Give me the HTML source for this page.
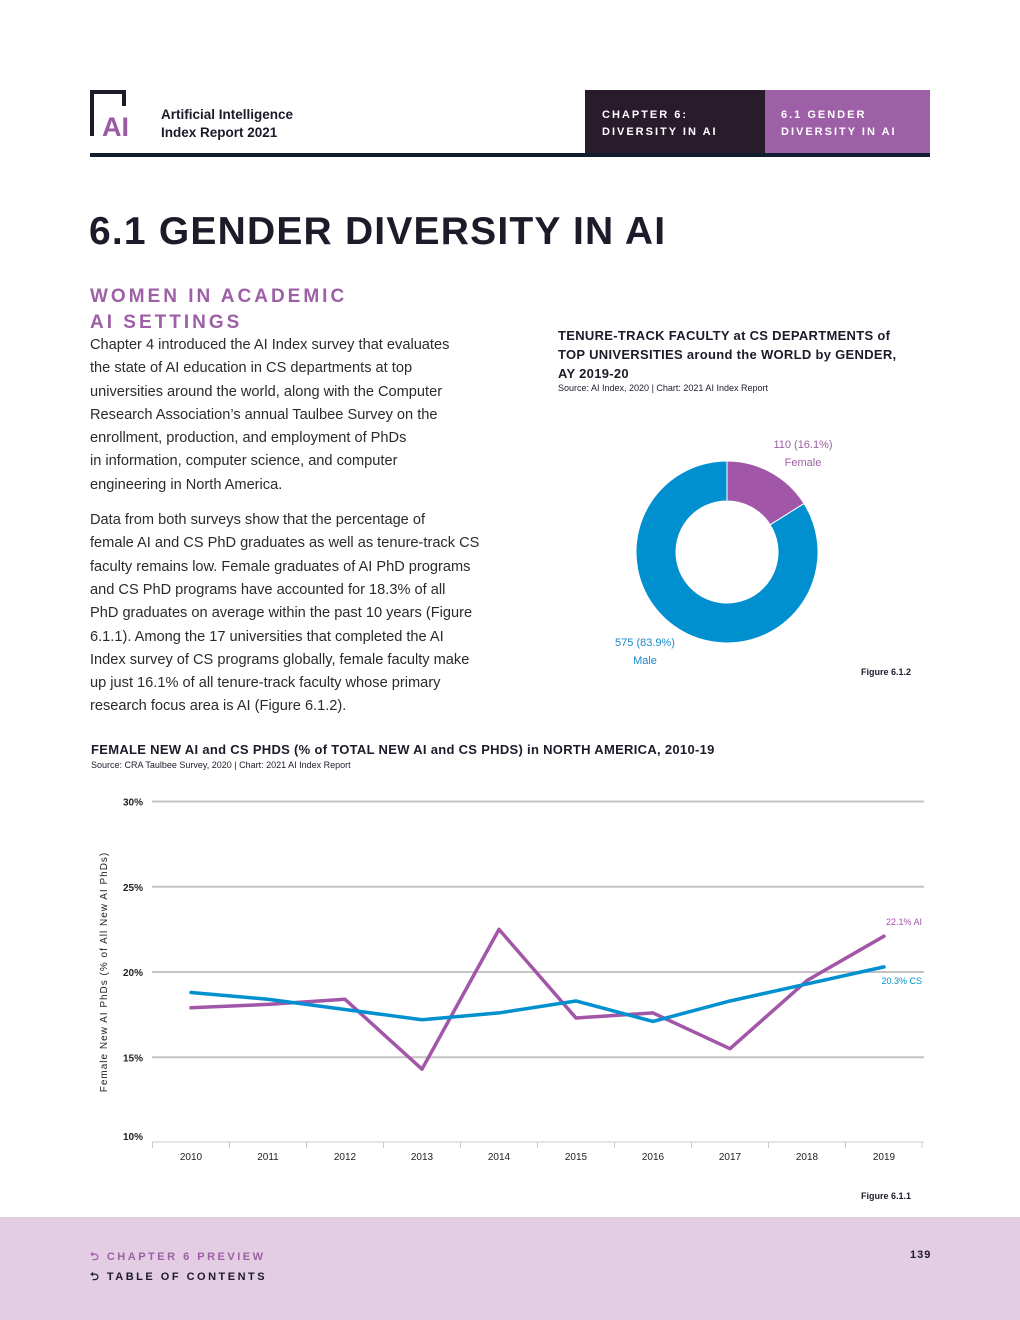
<!DOCTYPE html>
<html><head><meta charset="utf-8"><style>
body{margin:0;width:1020px;height:1320px;background:#fff;font-family:"Liberation Sans",sans-serif;position:relative;overflow:hidden;color:#1e1a2a}
.abs{position:absolute}
.body p{margin:0 0 12px;font-size:14.6px;line-height:23.3px;color:#2b2b2b;white-space:nowrap}
</style></head><body>
<div class="abs" style="left:90px;top:90px;width:56px;height:48px">
<svg width="56" height="48"><path d="M2 46V2H34V16" fill="none" stroke="#1e1a2a" stroke-width="4"/><text x="12" y="46" font-size="27" font-weight="bold" fill="#9b59a6" font-family="Liberation Sans">AI</text></svg></div>
<div class="abs" style="left:161px;top:106px;font-size:13.5px;font-weight:bold;line-height:18px">Artificial Intelligence<br>Index Report 2021</div>
<div class="abs" style="left:585px;top:90px;width:180px;height:63px;background:#291a2c;color:#fff;font-size:11px;font-weight:bold;letter-spacing:2px;line-height:17px;box-sizing:border-box;padding:17px 0 0 17px">CHAPTER 6:<br>DIVERSITY IN AI</div>
<div class="abs" style="left:765px;top:90px;width:165px;height:63px;background:#9d5fa6;color:#fff;font-size:11px;font-weight:bold;letter-spacing:2px;line-height:17px;box-sizing:border-box;padding:17px 0 0 16px">6.1 GENDER<br>DIVERSITY IN AI</div>
<div class="abs" style="left:90px;top:153px;width:840px;height:4px;background:#0f1d2e"></div>
<div class="abs" style="left:89px;top:210px;font-size:39px;font-weight:bold;letter-spacing:1.2px">6.1 GENDER DIVERSITY IN AI</div>
<div class="abs" style="left:90px;top:284px;font-size:19px;font-weight:bold;letter-spacing:3px;color:#9d5fa6;line-height:26px">WOMEN IN ACADEMIC<br>AI SETTINGS</div>
<div class="abs body" style="left:90px;top:334px;width:410px">
<p>Chapter 4 introduced the AI Index survey that evaluates<br>the state of AI education in CS departments at top<br>universities around the world, along with the Computer<br>Research Association’s annual Taulbee Survey on the<br>enrollment, production, and employment of PhDs<br>in information, computer science, and computer<br>engineering in North America.</p>
<p>Data from both surveys show that the percentage of<br>female AI and CS PhD graduates as well as tenure-track CS<br>faculty remains low. Female graduates of AI PhD programs<br>and CS PhD programs have accounted for 18.3% of all<br>PhD graduates on average within the past 10 years (Figure<br>6.1.1). Among the 17 universities that completed the AI<br>Index survey of CS programs globally, female faculty make<br>up just 16.1% of all tenure-track faculty whose primary<br>research focus area is AI (Figure 6.1.2).</p></div>
<div class="abs" style="left:558px;top:326px;font-size:13px;font-weight:bold;line-height:19px;letter-spacing:0.3px">TENURE-TRACK FACULTY at CS DEPARTMENTS of<br>TOP UNIVERSITIES around the WORLD by GENDER,<br>AY 2019-20</div>
<div class="abs" style="left:558px;top:383px;font-size:9px">Source: AI Index, 2020 | Chart: 2021 AI Index Report</div>
<svg class="abs" style="left:0;top:0" width="1020" height="1320" id="donut"></svg>
<div class="abs" style="left:760px;top:436px;width:86px;text-align:center;font-size:11px;color:#9d5fa6;line-height:18px">110 (16.1%)<br>Female</div>
<div class="abs" style="left:602px;top:634px;width:86px;text-align:center;font-size:11px;color:#1a8ac9;line-height:18px">575 (83.9%)<br>Male</div>
<div class="abs" style="left:861px;top:667px;font-size:9px;font-weight:bold">Figure 6.1.2</div>
<div class="abs" style="left:91px;top:742px;font-size:13px;font-weight:bold;letter-spacing:0.3px">FEMALE NEW AI and CS PHDS (% of TOTAL NEW AI and CS PHDS) in NORTH AMERICA, 2010-19</div>
<div class="abs" style="left:91px;top:760px;font-size:9px">Source: CRA Taulbee Survey, 2020 | Chart: 2021 AI Index Report</div>
<svg class="abs" style="left:0;top:0" width="1020" height="1320" id="line"></svg>
<div class="abs" style="left:861px;top:1191px;font-size:9px;font-weight:bold">Figure 6.1.1</div>
<div class="abs" style="left:0;top:1217px;width:1020px;height:103px;background:#e2cde2"></div>
<div class="abs" style="left:90px;top:1248px;font-size:11px;font-weight:bold;letter-spacing:2.5px;color:#9d5fa6">⮌ CHAPTER 6 PREVIEW</div>
<div class="abs" style="left:90px;top:1268px;font-size:11px;font-weight:bold;letter-spacing:2.5px;color:#1e1a2a">⮌ TABLE OF CONTENTS</div>
<div class="abs" style="left:910px;top:1249px;font-size:11px;font-weight:bold;letter-spacing:1px">139</div>
<script>
const NS='http://www.w3.org/2000/svg';
function mk(p,t,a){const e=document.createElementNS(NS,t);for(const k in a)e.setAttribute(k,a[k]);p.appendChild(e);return e;}
// donut
const sliceNames=['Female','Male'];
const sliceValues=[110,575];
const sliceColors=['#a256a8','#0090cf'];
const dn=document.getElementById('donut');
const cx=727,cy=552,R=91,r=51,tot=sliceValues.reduce((a,b)=>a+b,0);
let ang=-Math.PI/2;
sliceValues.forEach((v,i)=>{const a2=ang+v/tot*2*Math.PI;const lg=(a2-ang)>Math.PI?1:0;
const d=`M${cx+R*Math.cos(ang)} ${cy+R*Math.sin(ang)}A${R} ${R} 0 ${lg} 1 ${cx+R*Math.cos(a2)} ${cy+R*Math.sin(a2)}L${cx+r*Math.cos(a2)} ${cy+r*Math.sin(a2)}A${r} ${r} 0 ${lg} 0 ${cx+r*Math.cos(ang)} ${cy+r*Math.sin(ang)}Z`;
const p=mk(dn,'path',{d:d,fill:sliceColors[i],stroke:'#fff','stroke-width':1});


ang=a2;});
// line chart
const years=['2010','2011','2012','2013','2014','2015','2016','2017','2018','2019'];
const aiValues=[17.9,18.1,18.4,14.3,22.5,17.3,17.6,15.5,19.5,22.1];
const csValues=[18.8,18.4,17.8,17.2,17.6,18.3,17.1,18.3,19.3,20.3];
const yTicks=[10,15,20,25,30];
const ln=document.getElementById('line');
const X=i=>191+i*77, Y=v=>972-(v-20)*17.05;
yTicks.forEach(t=>{const yy=t===10?1142:Y(t);
const g=mk(ln,'line',{x1:152,x2:924,y1:yy,y2:yy,stroke:t===10?'#ccc':'#c4c4c4','stroke-width':t===10?1:2});


const tx=mk(ln,'text',{x:143,y:yy+4-(t===10?6:0),'text-anchor':'end','font-size':10,'font-weight':'bold',fill:'#222'});tx.textContent=t+'%';

});
years.forEach((yr,i)=>{const xx=X(i);
mk(ln,'line',{x1:xx-38.5,x2:xx-38.5,y1:1142,y2:1148,stroke:'#ccc'});
const tx=mk(ln,'text',{x:xx,y:1160,'text-anchor':'middle','font-size':10,fill:'#222'});tx.textContent=yr;

});
mk(ln,'line',{x1:922,x2:922,y1:1142,y2:1148,stroke:'#ccc'});
[[aiValues,'#a256a8','ai-line'],[csValues,'#0090cf','cs-line']].forEach(([vals,c,n])=>{
const p=mk(ln,'polyline',{points:vals.map((v,i)=>X(i)+','+Y(v)).join(' '),fill:'none',stroke:c,'stroke-width':3.5,'stroke-linejoin':'round','stroke-linecap':'round'});

});
const la=mk(ln,'text',{x:922,y:Y(aiValues[9])-11,'text-anchor':'end','font-size':9,fill:'#a256a8'});la.textContent=aiValues[9]+'% AI';


const lc=mk(ln,'text',{x:922,y:Y(csValues[9])+17,'text-anchor':'end','font-size':9,fill:'#0090cf'});lc.textContent=csValues[9]+'% CS';


const yt=mk(ln,'text',{transform:'translate(107,972) rotate(-90)','text-anchor':'middle','font-size':10,'letter-spacing':1,fill:'#222'});yt.textContent='Female New AI PhDs (% of All New AI PhDs)';


</script>
</body></html>
